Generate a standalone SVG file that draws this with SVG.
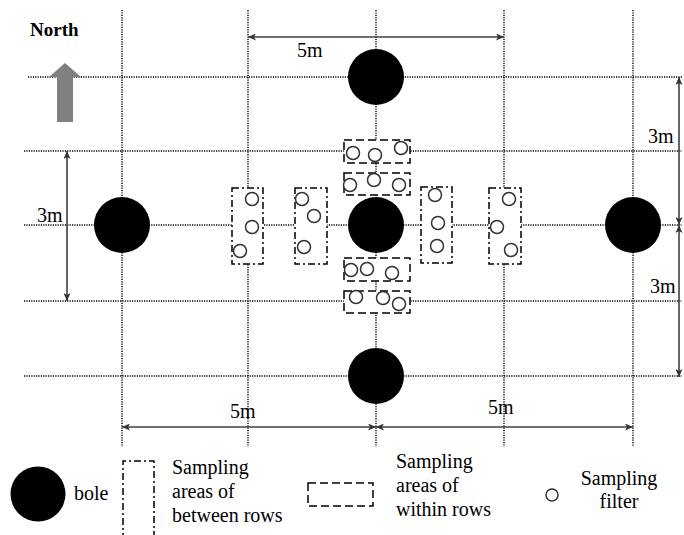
<svg xmlns="http://www.w3.org/2000/svg" width="684" height="535" viewBox="0 0 684 535" font-family="Liberation Serif, serif" font-size="20">
<defs>
<style>
.grid{stroke:#000;stroke-width:1.4;stroke-dasharray:1.2 1.2;fill:none}
.dim{stroke:#404040;stroke-width:1.6;fill:none}
.bole{fill:#000}
.filter{fill:#fff;stroke:#333;stroke-width:1.5}
.between{fill:#fff;stroke:#000;stroke-width:1.5;stroke-dasharray:7 3 2 3}
.within{fill:#fff;stroke:#000;stroke-width:1.5;stroke-dasharray:8 4}
</style>
<marker id="ah" viewBox="0 0 8 7" refX="8" refY="3.5" markerWidth="8" markerHeight="7" markerUnits="userSpaceOnUse" orient="auto-start-reverse">
<path d="M0,0 L8,3.5 L0,7 L2,3.5 z" fill="#333"/>
</marker>
</defs>
<rect width="684" height="535" fill="#fff"/>
<g id="grid">
<line class="grid" x1="122" y1="10" x2="122" y2="447"/>
<line class="grid" x1="248" y1="10" x2="248" y2="447"/>
<line class="grid" x1="376" y1="10" x2="376" y2="447"/>
<line class="grid" x1="504" y1="10" x2="504" y2="447"/>
<line class="grid" x1="633" y1="10" x2="633" y2="447"/>
<line class="grid" x1="28" y1="77" x2="682" y2="77"/>
<line class="grid" x1="24" y1="151" x2="682" y2="151"/>
<line class="grid" x1="24" y1="225" x2="682" y2="225"/>
<line class="grid" x1="24" y1="301" x2="682" y2="301"/>
<line class="grid" x1="24" y1="376" x2="682" y2="376"/>
</g>
<g id="north">
<text x="30" y="36" font-weight="bold" font-size="19">North</text>
<path d="M65,63 L81,77 L73,77 L73,122 L57,122 L57,77 L49,77 z" fill="#808080"/>
</g>
<g id="connectors">
<line class="dim" x1="248" y1="37" x2="504" y2="37" marker-start="url(#ah)" marker-end="url(#ah)"/>
<line class="dim" x1="67" y1="151" x2="67" y2="301" marker-start="url(#ah)" marker-end="url(#ah)"/>
<line class="dim" x1="679" y1="77" x2="679" y2="225" marker-start="url(#ah)" marker-end="url(#ah)"/>
<line class="dim" x1="679" y1="225" x2="679" y2="377" marker-start="url(#ah)" marker-end="url(#ah)"/>
<line class="dim" x1="122" y1="427" x2="376" y2="427" marker-start="url(#ah)" marker-end="url(#ah)"/>
<line class="dim" x1="376" y1="427" x2="633" y2="427" marker-start="url(#ah)" marker-end="url(#ah)"/>
</g>
<g id="dim-labels">
<text x="297" y="57">5m</text>
<text x="37" y="222">3m</text>
<text x="648" y="143">3m</text>
<text x="650" y="293">3m</text>
<text x="230" y="418">5m</text>
<text x="488" y="414">5m</text>
</g>
<g id="bole-n"><circle class="bole" cx="376" cy="77" r="28"/></g>
<g id="bole-w"><circle class="bole" cx="122" cy="225" r="28"/></g>
<g id="bole-c"><circle class="bole" cx="376" cy="225" r="28"/></g>
<g id="bole-e"><circle class="bole" cx="633" cy="225" r="28"/></g>
<g id="bole-s"><circle class="bole" cx="376" cy="376" r="28"/></g>
<g id="between-1">
<rect class="between" x="232" y="188" width="31" height="76"/>
<circle class="filter" cx="252" cy="199" r="6.5"/>
<circle class="filter" cx="252" cy="227" r="6.5"/>
<circle class="filter" cx="240" cy="251" r="6.5"/>
</g>
<g id="between-2">
<rect class="between" x="295" y="188" width="32" height="76"/>
<circle class="filter" cx="302" cy="199" r="6.5"/>
<circle class="filter" cx="314" cy="216" r="6.5"/>
<circle class="filter" cx="304" cy="247" r="6.5"/>
</g>
<g id="between-3">
<rect class="between" x="421" y="187" width="31" height="76"/>
<circle class="filter" cx="435" cy="195" r="6.5"/>
<circle class="filter" cx="438" cy="223" r="6.5"/>
<circle class="filter" cx="437" cy="246" r="6.5"/>
</g>
<g id="between-4">
<rect class="between" x="489" y="188" width="32" height="76"/>
<circle class="filter" cx="509" cy="199" r="6.5"/>
<circle class="filter" cx="497" cy="227" r="6.5"/>
<circle class="filter" cx="511" cy="250" r="6.5"/>
</g>
<g id="within-1">
<rect class="within" x="344" y="140" width="66" height="23"/>
<circle class="filter" cx="353" cy="153" r="6.5"/>
<circle class="filter" cx="375" cy="155" r="6.5"/>
<circle class="filter" cx="401" cy="148" r="6.5"/>
</g>
<g id="within-2">
<rect class="within" x="344" y="173" width="66" height="22"/>
<circle class="filter" cx="350" cy="185" r="6.5"/>
<circle class="filter" cx="374" cy="180" r="6.5"/>
<circle class="filter" cx="399" cy="185" r="6.5"/>
</g>
<g id="within-3">
<rect class="within" x="344" y="258" width="66" height="23"/>
<circle class="filter" cx="351" cy="270" r="6.5"/>
<circle class="filter" cx="367" cy="269" r="6.5"/>
<circle class="filter" cx="392" cy="273" r="6.5"/>
</g>
<g id="within-4">
<rect class="within" x="344" y="291" width="66" height="22"/>
<circle class="filter" cx="356" cy="297" r="6.5"/>
<circle class="filter" cx="383" cy="298" r="6.5"/>
<circle class="filter" cx="399" cy="304" r="6.5"/>
</g>
<g id="legend-bole">
<circle class="bole" cx="38" cy="494" r="27.5"/>
<text x="74" y="500">bole</text>
</g>
<g id="legend-between">
<path class="between" d="M123,540 L123,461 L154,461 L154,540"/>
<text x="172" y="474">Sampling</text>
<text x="172" y="498">areas of</text>
<text x="172" y="522">between rows</text>
</g>
<g id="legend-within">
<rect class="within" x="308" y="483" width="65" height="23"/>
<text x="396" y="468">Sampling</text>
<text x="396" y="492">areas of</text>
<text x="396" y="516">within rows</text>
</g>
<g id="legend-filter">
<circle class="filter" cx="552" cy="495" r="6"/>
<text x="619" y="485" text-anchor="middle">Sampling</text>
<text x="619" y="508" text-anchor="middle">filter</text>
</g>
</svg>
